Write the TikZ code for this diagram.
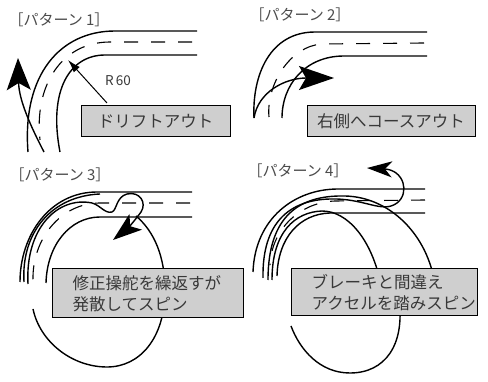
\documentclass[tikz,border=0pt]{standalone}
\usepackage{fontspec}
\setmainfont{Noto Sans CJK JP}
\usepackage{tikz}
\usetikzlibrary{arrows.meta,positioning}
\newcommand{\panelfont}{\fontsize{16.5}{21}\selectfont}
\newcommand{\titlefont}{\fontsize{15}{17}\selectfont}
\tikzset
{
    panelbox/.style = {rectangle, draw=black, line width=1pt, fill=gray!38, align=center, inner sep=0pt, font=\panelfont, text=black!78},
    caption/.style  = {inner sep=0pt, align=left, font=\panelfont, text=black!78},
    title/.style    = {inner sep=0pt, font=\titlefont, text=black!70},
    road/.style     = {line width=1.4pt},
    centreline/.style = {line width=1.1pt, dash pattern=on 14pt off 13pt},
    track/.style    = {line width=1.4pt},
    skid/.style 2 args = {-{Stealth[length=#1, width=#2, inset=7pt]}}
}

\begin{document}
\begin{tikzpicture}[x=1pt, y=-1pt]
\useasboundingbox[fill=white] (0,0) rectangle (488,382);

% titles
\node[title] (title1) at (59,19.5) {［パターン 1］};
\node[title] (title2) at (300,15) {［パターン 2］};
\node[title] (title3) at (60,175) {［パターン 3］};
\node[title] (title4) at (298,171) {［パターン 4］};

% pattern 1
\draw[road] (197,31) -- (115,31) .. controls (60,31) and (22,75) .. (28,152);
\draw[centreline] (192,42) -- (110,42) .. controls (62,42) and (34,85) .. (40,140);
\draw[road] (197,55) -- (105,55) .. controls (70,55) and (48,90) .. (60,152);
\draw[track, skid={32pt}{24pt}] (44,152) .. controls (30,125) and (19,100) .. (18,58);
\node[inner sep=0pt, font=\fontsize{13.5}{15}\selectfont, text=black!78] (radius) at (118,81) {R\,60};
\coordinate (radfoot) at (107,103);
\coordinate (radtip) at (68,60);
\draw[line width=1pt, -{Latex[length=13pt, width=8pt]}] (radfoot) -- (radtip);
\node[panelbox, minimum width=149pt, minimum height=31pt] (box1) at (155.5,121.5) {ドリフトアウト};

% pattern 2
\draw[road] (427,32) -- (315,32) .. controls (270,32) and (252,75) .. (254,118);
\draw[centreline] (424,43) -- (322,44) .. controls (290,46) and (266,85) .. (269,117);
\draw[road] (427,56) -- (344,56) .. controls (305,56) and (282,85) .. (282,118);
\draw[track, skid={35pt}{24pt}] (254,118) .. controls (258,92) and (285,78) .. (334,78);
\node[panelbox, minimum width=168pt, minimum height=31pt] (box2) at (391,121.5) {右側へコースアウト};

% pattern 3
\draw[road] (192,192) -- (97,192) .. controls (50,192) and (20,235) .. (20,282);
\draw[centreline] (190,203) -- (100,203) .. controls (60,203) and (32,240) .. (33,280);
\draw[road] (192,217) -- (100,217) .. controls (70,217) and (47,245) .. (46,283);
\draw[track] (24,282) .. controls (21,232) and (52,196) .. (100,194);
\draw[track, skid={29pt}{20pt}] (28,284) .. controls (25,228) and (58,196) .. (92,203)
    .. controls (100,205) and (105,214) .. (112,212) .. controls (117,210) and (116,197) .. (127,194)
    .. controls (140,191) and (147,203) .. (141,212) .. controls (136,219) and (128,228) .. (113,240);
\draw[track] (136,216) .. controls (155,232) and (165,258) .. (165,290)
    .. controls (165,338) and (140,367) .. (107,367) .. controls (72,367) and (40,342) .. (33,309);
\node[panelbox, minimum width=191pt, minimum height=49pt] (box3) at (147.5,293.5) {};
\node[caption, right=21pt of box3.west] (text3) {修正操舵を繰返すが\\発散してスピン};

% pattern 4
\draw[road] (425,189) -- (338,189) .. controls (295,189) and (255,218) .. (253,272);
\draw[centreline] (425,200) -- (335,201) .. controls (303,202) and (272,226) .. (270,265);
\draw[road] (425,213) -- (330,213) .. controls (300,214) and (278,237) .. (277,276);
\draw[track] (268,280) .. controls (268,215) and (300,195) .. (345,196) .. controls (390,197) and (428,235) .. (435,285);
\draw[track] (272,280) .. controls (272,232) and (295,212) .. (322,211) .. controls (348,211) and (372,240) .. (381,285);
\draw[track, skid={25pt}{16pt}] (263,278) .. controls (262,222) and (290,200) .. (330,199)
    .. controls (365,198) and (382,214) .. (397,203) .. controls (410,193) and (404,170) .. (367,168);
\draw[track] (399,300) .. controls (405,345) and (385,373) .. (350,373) .. controls (320,373) and (300,350) .. (291,326);
\node[panelbox, minimum width=186pt, minimum height=47pt] (box4) at (384,292.5) {};
\node[caption, right=21pt of box4.west] (text4) {ブレーキと間違え\\アクセルを踏みスピン};
\end{tikzpicture}
\end{document}
